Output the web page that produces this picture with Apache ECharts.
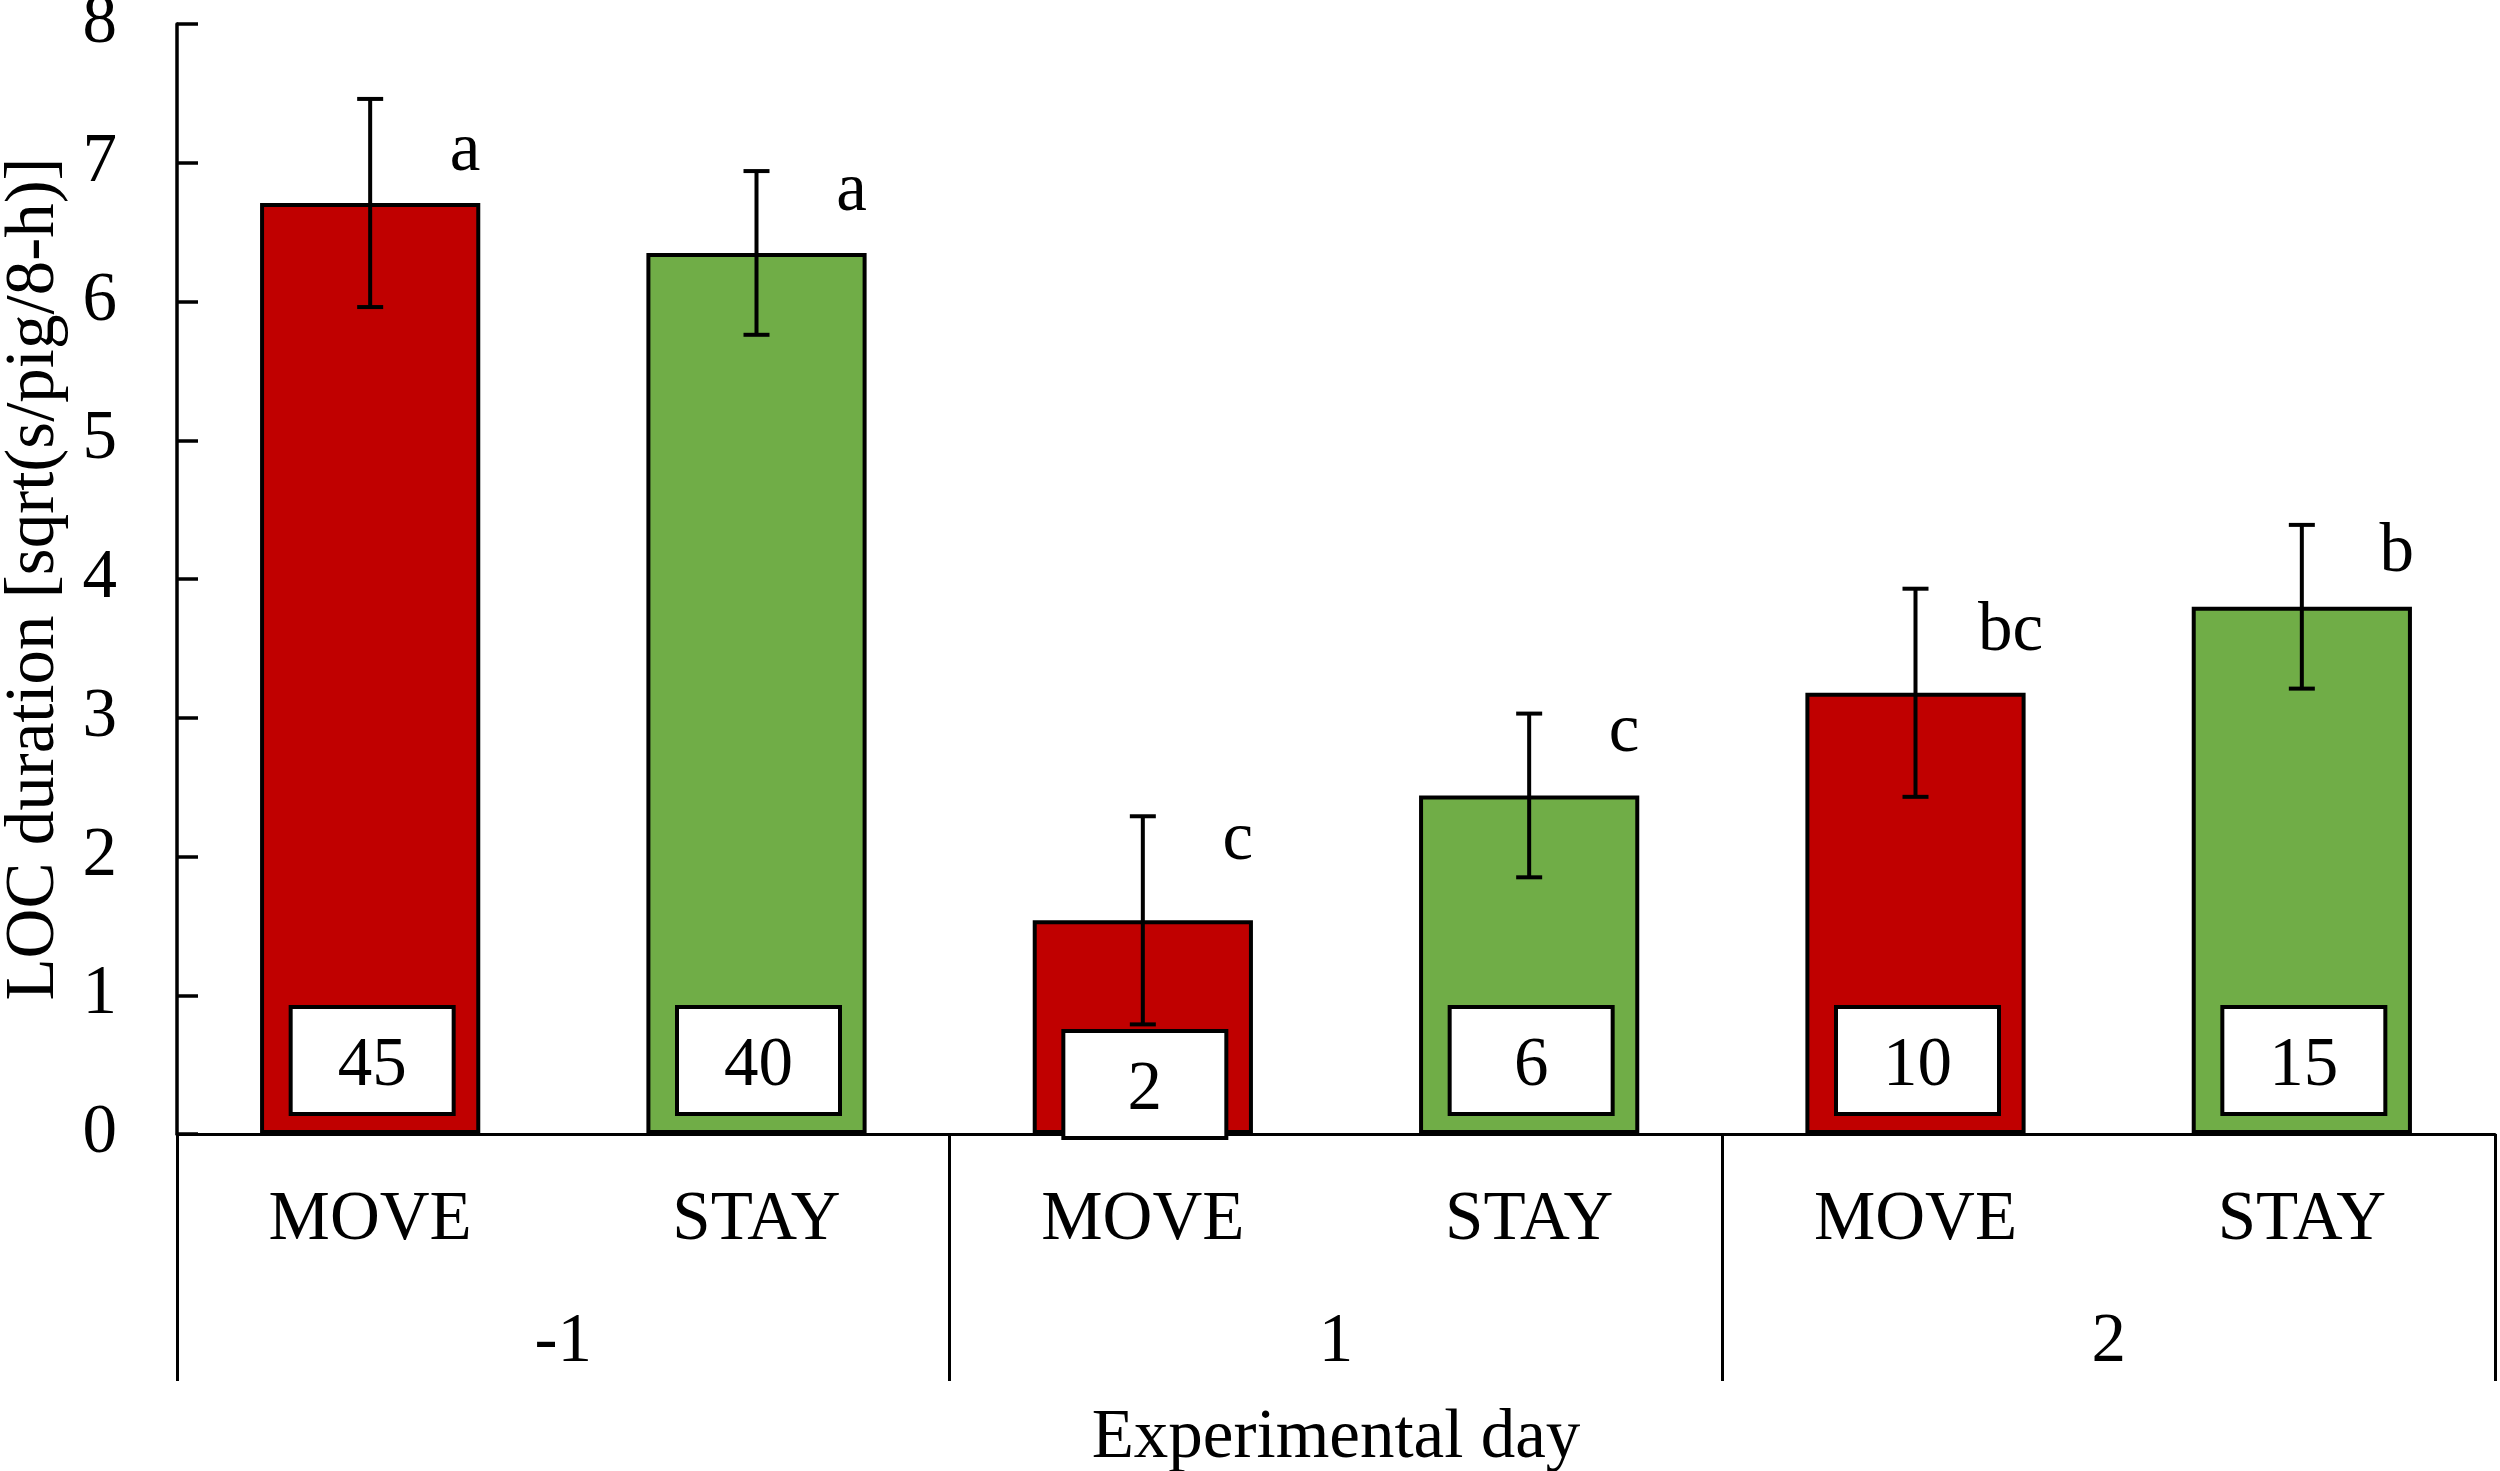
<!DOCTYPE html>
<html>
<head>
<meta charset="utf-8">
<script src="https://cdn.jsdelivr.net/npm/echarts@6/dist/echarts.min.js"></script>
<style>
html,body{margin:0;padding:0;background:#fff;}
#chart{width:2500px;height:1471px;}
</style>
</head>
<body>
<div id="chart"></div>
<script>
const treatments = ['MOVE', 'STAY', 'MOVE', 'STAY', 'MOVE', 'STAY'];
const days = ['-1', '1', '2'];
const means = [6.71, 6.35, 1.54, 2.44, 3.18, 3.80];
const errors = [0.75, 0.59, 0.75, 0.59, 0.75, 0.59];
const sigLetters = ['a', 'a', 'c', 'c', 'bc', 'b'];
const sigLetterLevels = [7.08, 6.79, 2.11, 2.89, 3.62, 4.19];
const nCounts = [45, 40, 2, 6, 10, 15];

const FONT = 'Liberation Serif';
const FS = 69;
const RED = '#C00000';
const GREEN = '#70AD47';

const chart = echarts.init(document.getElementById('chart'), null, {renderer: 'canvas'});

const barData = means.map((m, i) => ({
  value: m,
  itemStyle: {color: treatments[i] === 'MOVE' ? RED : GREEN}
}));
const errData = means.map((m, i) => [i, m - errors[i], m + errors[i]]);
const letterData = sigLetterLevels.map((v, i) => [i, v, sigLetters[i]]);
const nData = nCounts.map((n, i) => [i, 0, n]);

const option = {
  backgroundColor: '#ffffff',
  animation: false,
  textStyle: {fontFamily: FONT, color: '#000'},
  grid: {left: 177, right: 5, top: 24, bottom: 337, containLabel: false, outerBoundsMode: 'none'},
  xAxis: [
    {
      type: 'category',
      data: treatments,
      position: 'bottom',
      axisLine: {show: true, lineStyle: {color: '#000', width: 3}},
      axisTick: {show: false},
      axisLabel: {fontFamily: FONT, fontSize: FS, color: '#000', margin: 52}
    },
    {
      type: 'category',
      data: days,
      position: 'bottom',
      axisLine: {show: false},
      axisTick: {show: true, length: 247, lineStyle: {color: '#000', width: 3}},
      axisLabel: {fontFamily: FONT, fontSize: FS, color: '#000', margin: 174},
      name: 'Experimental day',
      nameLocation: 'middle',
      nameGap: 270,
      nameTextStyle: {fontFamily: FONT, fontSize: FS, color: '#000'}
    }
  ],
  yAxis: {
    type: 'value',
    min: 0,
    max: 8,
    interval: 1,
    name: 'LOC duration [sqrt(s/pig/8-h)]',
    nameLocation: 'middle',
    nameGap: 108,
    nameTextStyle: {fontFamily: FONT, fontSize: FS, color: '#000'},
    axisLine: {show: true, lineStyle: {color: '#000', width: 3.5}},
    axisTick: {show: true, inside: true, length: 21, lineStyle: {color: '#000', width: 3.5}},
    axisLabel: {fontFamily: FONT, fontSize: FS, color: '#000', margin: 60},
    splitLine: {show: false}
  },
  series: [
    {
      type: 'bar',
      data: barData,
      barWidth: '57%',
      itemStyle: {borderColor: '#000', borderWidth: 4},
      z: 2
    },
    {
      type: 'custom',
      data: nData,
      z: 3,
      renderItem: function (params, api) {
        const i = api.value(0);
        const base = api.coord([i, 0]);
        const w = 163, h = 107;
        const shift = (i === 2) ? 24 : 0;
        const bottom = base[1] - 20 + shift;
        return {
          type: 'group',
          children: [
            {type: 'rect', shape: {x: base[0] - w / 2 + 2, y: bottom - h, width: w, height: h},
             style: {fill: '#fff', stroke: '#000', lineWidth: 4}},
            {type: 'text', style: {x: base[0] + 2, y: bottom - h / 2 + 6, text: String(nCounts[i]),
             font: FS + 'px "' + FONT + '"', fill: '#000', align: 'center', verticalAlign: 'middle'}}
          ]
        };
      }
    },
    {
      type: 'custom',
      data: errData,
      z: 4,
      renderItem: function (params, api) {
        const i = api.value(0);
        const lo = api.coord([i, api.value(1)]);
        const hi = api.coord([i, api.value(2)]);
        const cap = 13;
        const st = {stroke: '#000', lineWidth: 4};
        return {
          type: 'group',
          children: [
            {type: 'line', shape: {x1: lo[0], y1: lo[1], x2: hi[0], y2: hi[1]}, style: st},
            {type: 'line', shape: {x1: hi[0] - cap, y1: hi[1], x2: hi[0] + cap, y2: hi[1]}, style: st},
            {type: 'line', shape: {x1: lo[0] - cap, y1: lo[1], x2: lo[0] + cap, y2: lo[1]}, style: st}
          ]
        };
      }
    },
    {
      type: 'custom',
      data: letterData,
      z: 5,
      renderItem: function (params, api) {
        const i = api.value(0);
        const p = api.coord([i, api.value(1)]);
        return {
          type: 'text',
          style: {x: p[0] + 95, y: p[1], text: sigLetters[i],
            font: FS + 'px "' + FONT + '"', fill: '#000', align: 'center', verticalAlign: 'middle'}
        };
      }
    }
  ]
};
chart.setOption(option);
</script>
</body>
</html>
